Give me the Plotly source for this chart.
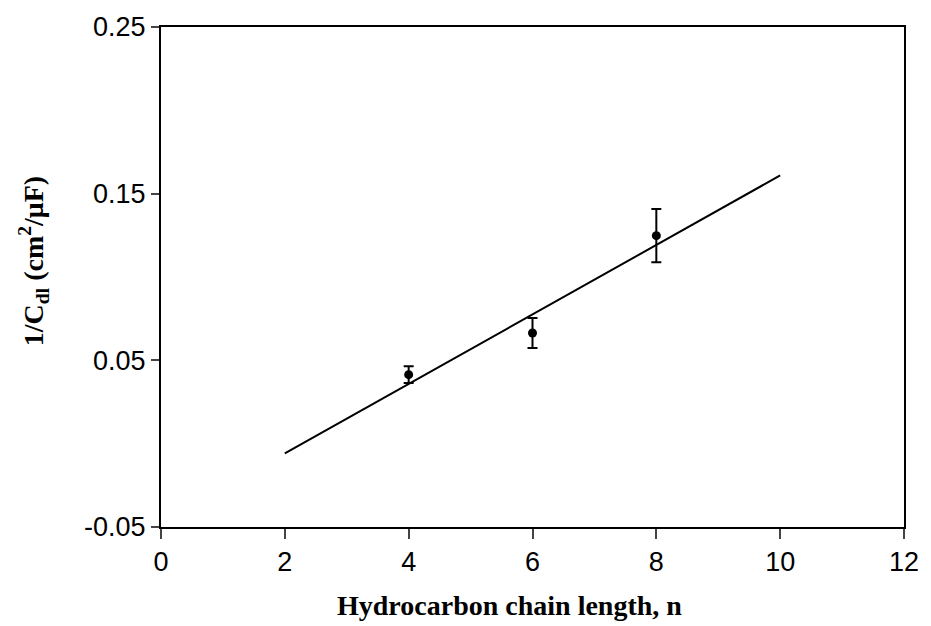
import numpy as np
import plotly.graph_objects as go

# Measured points: chain length n vs 1/Cdl with error bars
chain_length = [4, 6, 8]
inv_cdl = [0.0414, 0.0664, 0.1248]
inv_cdl_err = [0.005, 0.009, 0.016]

# Fit line span
fit_x = [2, 10]

# Axis ticks
x_ticks = [0, 2, 4, 6, 8, 10, 12]
y_ticks = [-0.05, 0.05, 0.15, 0.25]
y_tick_labels = ["-0.05", "0.05", "0.15", "0.25"]

slope, intercept = np.polyfit(chain_length, inv_cdl, 1)
fit_y = [slope * x + intercept for x in fit_x]

tick_font = dict(family="Liberation Sans", size=27, color="black")
title_font = dict(family="Liberation Serif", size=28, color="black")

fig = go.Figure()
fig.add_trace(go.Scatter(
    x=fit_x, y=fit_y, mode="lines",
    line=dict(color="black", width=2), showlegend=False, hoverinfo="skip",
))
fig.add_trace(go.Scatter(
    x=chain_length, y=inv_cdl, mode="markers",
    marker=dict(color="black", size=9),
    error_y=dict(type="data", array=inv_cdl_err, color="black", thickness=2, width=5),
    showlegend=False,
))

fig.update_layout(
    width=931, height=626,
    margin=dict(l=161, r=21, t=27, b=99),
    paper_bgcolor="white", plot_bgcolor="white",
    font=dict(family="Liberation Sans", size=27, color="black"),
    xaxis=dict(
        range=[0, 12], tickvals=x_ticks, ticks="outside", ticklen=10, tickwidth=2,
        tickfont=tick_font,
        showline=True, linecolor="black", linewidth=2, mirror=True,
        showgrid=False, zeroline=False,
    ),
    yaxis=dict(
        range=[-0.05, 0.25], tickvals=y_ticks, ticktext=y_tick_labels,
        ticks="outside", ticklen=8, tickwidth=2,
        tickfont=tick_font,
        showline=True, linecolor="black", linewidth=2, mirror=True,
        showgrid=False, zeroline=False,
    ),
    annotations=[
        dict(text="<b>Hydrocarbon chain length, n</b>", font=title_font,
             xref="paper", yref="paper", x=0.4686, y=-0.156,
             xanchor="center", yanchor="middle", showarrow=False),
        dict(text="<b>1/C<sub>dl</sub> (cm<sup>2</sup>/μF)</b>", font=title_font,
             xref="paper", yref="paper", x=-0.172, y=0.532, textangle=-90,
             xanchor="center", yanchor="middle", showarrow=False),
    ],
)

fig.write_html("out.html")
